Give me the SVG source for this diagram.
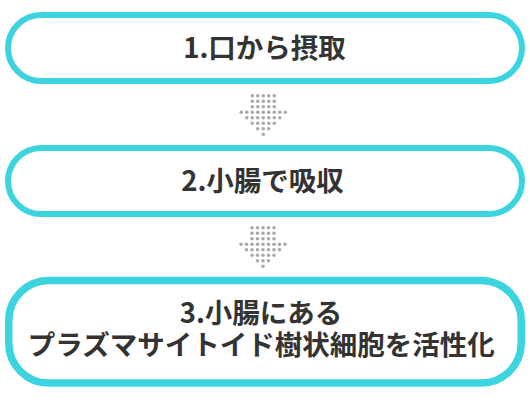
<svg xmlns="http://www.w3.org/2000/svg" width="530" height="400" viewBox="0 0 530 400">
<style>
.box{fill:#fff;stroke:#3bd4df;stroke-width:6}
.box3{fill:#fff;stroke:#3bd4df;stroke-width:7.5}
.t{font-family:"Noto Sans CJK JP","Noto Sans",sans-serif;font-weight:bold;font-size:27.5px;fill:#333;text-anchor:middle}
.d{fill:#aaa}
</style>
<defs>
<g id="arrow">
<circle class="d" cx="-11" cy="0" r="1.8"/><circle class="d" cx="-5.5" cy="0" r="1.8"/><circle class="d" cx="0" cy="0" r="1.8"/><circle class="d" cx="5.5" cy="0" r="1.8"/><circle class="d" cx="11" cy="0" r="1.8"/>
<circle class="d" cx="-11" cy="5.5" r="1.8"/><circle class="d" cx="-5.5" cy="5.5" r="1.8"/><circle class="d" cx="0" cy="5.5" r="1.8"/><circle class="d" cx="5.5" cy="5.5" r="1.8"/><circle class="d" cx="11" cy="5.5" r="1.8"/>
<circle class="d" cx="-11" cy="11" r="1.8"/><circle class="d" cx="-5.5" cy="11" r="1.8"/><circle class="d" cx="0" cy="11" r="1.8"/><circle class="d" cx="5.5" cy="11" r="1.8"/><circle class="d" cx="11" cy="11" r="1.8"/>
<circle class="d" cx="-22" cy="16.5" r="1.8"/><circle class="d" cx="-16.5" cy="16.5" r="1.8"/><circle class="d" cx="-11" cy="16.5" r="1.8"/><circle class="d" cx="-5.5" cy="16.5" r="1.8"/><circle class="d" cx="0" cy="16.5" r="1.8"/><circle class="d" cx="5.5" cy="16.5" r="1.8"/><circle class="d" cx="11" cy="16.5" r="1.8"/><circle class="d" cx="16.5" cy="16.5" r="1.8"/><circle class="d" cx="22" cy="16.5" r="1.8"/>
<circle class="d" cx="-16.5" cy="22" r="1.8"/><circle class="d" cx="-11" cy="22" r="1.8"/><circle class="d" cx="-5.5" cy="22" r="1.8"/><circle class="d" cx="0" cy="22" r="1.8"/><circle class="d" cx="5.5" cy="22" r="1.8"/><circle class="d" cx="11" cy="22" r="1.8"/><circle class="d" cx="16.5" cy="22" r="1.8"/>
<circle class="d" cx="-11" cy="27.5" r="1.8"/><circle class="d" cx="-5.5" cy="27.5" r="1.8"/><circle class="d" cx="0" cy="27.5" r="1.8"/><circle class="d" cx="5.5" cy="27.5" r="1.8"/><circle class="d" cx="11" cy="27.5" r="1.8"/>
<circle class="d" cx="-5.5" cy="33" r="1.8"/><circle class="d" cx="0" cy="33" r="1.8"/><circle class="d" cx="5.5" cy="33" r="1.8"/>
<circle class="d" cx="0" cy="38.5" r="1.8"/>
</g>
</defs>
<g id="connectors">
<use href="#arrow" x="263.3" y="95.7"/>
<use href="#arrow" x="263" y="227.7"/>
</g>
<g id="node1">
<rect class="box" x="8" y="15" width="514" height="66" rx="33"/>
<text class="t" x="264.5" y="57.5">1.口から摂取</text>
</g>
<g id="node2">
<rect class="box" x="8" y="148" width="514" height="66" rx="33"/>
<text class="t" x="262.5" y="191">2.小腸で吸収</text>
</g>
<g id="node3">
<rect class="box3" x="8.75" y="280.5" width="512.5" height="102.5" rx="40"/>
<text class="t" x="261" y="322.5">3.小腸にある</text>
<text class="t" x="261.3" y="354.5">プラズマサイトイド樹状細胞を活性化</text>
</g>
</svg>
